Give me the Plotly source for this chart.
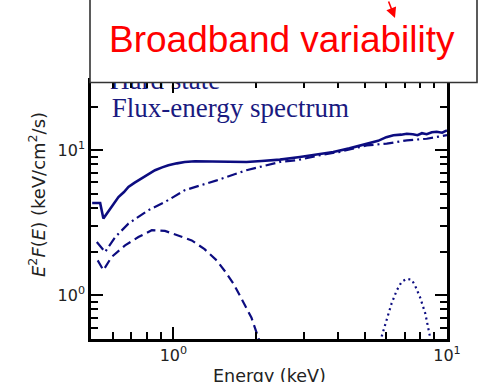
import plotly.graph_objects as go

# ---- spectrum components (energy in keV, E^2 F(E) in keV/cm^2/s) ----
total_energy = [0.505, 0.54, 0.555, 0.57, 0.587, 0.61, 0.63, 0.66, 0.685, 0.72, 0.767, 0.81,
                0.857, 0.91, 0.959, 1.03, 1.10, 1.2, 1.30, 1.40, 1.6, 1.85, 2.1, 2.45,
                2.90, 3.44, 3.84, 4.4, 5.09, 5.6, 6.0, 6.37, 6.8, 7.13, 7.5, 7.8, 8.1,
                8.43, 8.8, 9.17, 9.6, 10.0]
total_flux = [4.33, 4.33, 3.38, 3.62, 3.96, 4.35, 4.76, 5.15, 5.58, 5.95, 6.38, 6.85,
              7.28, 7.62, 7.88, 8.12, 8.30, 8.40, 8.38, 8.30, 8.28, 8.30, 8.42, 8.62,
              8.99, 9.49, 9.73, 10.3, 11.1, 11.6, 12.3, 12.7, 12.8, 13.0, 12.9, 12.7, 13.1,
              12.9, 13.3, 13.4, 13.2, 13.7]

pl_energy = [0.525, 0.563, 0.613, 0.685, 0.81, 0.932, 1.10, 1.44, 1.85, 2.45, 2.82,
             3.44, 4.06, 5.09, 6.02, 7.13, 8.43, 10.0]
pl_flux = [2.33, 1.99, 2.52, 3.12, 3.86, 4.40, 5.30, 6.20, 7.28, 8.30, 8.53,
           9.24, 9.75, 10.8, 11.1, 11.7, 12.0, 12.7]

disk_energy = [0.529, 0.555, 0.595, 0.666, 0.745, 0.834, 0.932, 1.043, 1.167, 1.30,
               1.44, 1.55, 1.66, 1.80, 1.93, 2.06]
disk_flux = [1.74, 1.49, 1.84, 2.21, 2.52, 2.81, 2.78, 2.59, 2.39, 2.08,
             1.74, 1.45, 1.20, 0.90, 0.70, 0.49]

line_energy = [5.77, 6.02, 6.27, 6.55, 6.83, 7.13, 7.43, 7.64, 7.97, 8.33, 8.55, 8.67]
line_flux = [0.52, 0.67, 0.877, 1.08, 1.24, 1.30, 1.28, 1.17, 0.97, 0.75, 0.60, 0.516]

x_major = [1, 10]
x_major_text = ["10<sup>0</sup>", "10<sup>1</sup>"]
x_minor = [0.6, 0.7, 0.8, 0.9, 2, 3, 4, 5, 6, 7, 8, 9]
y_major = [1, 10]
y_major_text = ["10<sup>0</sup>", "10<sup>1</sup>"]
y_minor = [0.6, 0.7, 0.8, 0.9, 2, 3, 4, 5, 6, 7, 8, 9, 20, 30]

x_range = [0.5, 10.0]
y_range = [0.5, 30.0]

NAVY = "#0c0c80"

W, H = 481, 382
L, R, T, B = 91, 34, 81, 43


def px(x):
    return (x - L) / (W - L - R)


def py(y):
    return (H - B - y) / (H - T - B)


fig = go.Figure()
fig.add_trace(go.Scatter(x=disk_energy, y=disk_flux, mode="lines",
                         line=dict(color=NAVY, width=2.2, dash="9px,5px")))
fig.add_trace(go.Scatter(x=line_energy, y=line_flux, mode="lines",
                         line=dict(color=NAVY, width=2.2, dash="2px,3.5px")))
fig.add_trace(go.Scatter(x=pl_energy, y=pl_flux, mode="lines",
                         line=dict(color=NAVY, width=2.2, dash="10px,4px,2px,4px")))
fig.add_trace(go.Scatter(x=total_energy, y=total_flux, mode="lines",
                         line=dict(color=NAVY, width=2.6)))

# in-plot caption, partly tucked under the callout box
fig.add_trace(go.Scatter(x=[0.587, 0.5956], y=[29.2, 18.8], mode="text",
                         text=["Hard state", "Flux-energy spectrum"],
                         textposition="middle right", cliponaxis=False,
                         textfont=dict(family="Liberation Serif", size=27, color="#1a1a80")))

axis_common = dict(type="log", showgrid=False, zeroline=False, showline=True,
                   linecolor="black", linewidth=2.5, mirror="ticks",
                   ticks="inside", ticklen=12, tickwidth=2, tickcolor="black",
                   tickfont=dict(family="DejaVu Sans", size=16, color="#222"))

fig.update_xaxes(range=[__import__("math").log10(v) for v in x_range],
                 tickvals=x_major, ticktext=x_major_text,
                 minor=dict(tickvals=x_minor, ticks="inside", ticklen=7,
                            tickwidth=2, tickcolor="black"),
                 **axis_common)
fig.update_yaxes(range=[__import__("math").log10(v) for v in y_range],
                 tickvals=y_major, ticktext=y_major_text,
                 minor=dict(tickvals=y_minor, ticks="inside", ticklen=7,
                            tickwidth=2, tickcolor="black"),
                 **axis_common)

fig.update_layout(
    width=W, height=H,
    margin=dict(l=L, r=R, t=T, b=B, pad=0),
    paper_bgcolor="white", plot_bgcolor="white",
    showlegend=False,
    shapes=[dict(type="rect", xref="paper", yref="paper", layer="above",
                 x0=px(90), x1=px(477), y0=py(82.5), y1=py(-6),
                 fillcolor="white", line=dict(color="#333", width=1.6))],
    annotations=[
        dict(text="Broadband variability", xref="paper", yref="paper",
             x=px(281.5), y=py(39.5), xanchor="center", yanchor="middle",
             showarrow=False,
             font=dict(family="Liberation Sans", size=37, color="#ff0000")),
        dict(text="", xref="paper", yref="paper", x=px(395), y=py(18),
             ax=-7, ay=-32, showarrow=True, arrowhead=2, arrowsize=1.3,
             arrowwidth=1.6, arrowcolor="#ff0000"),
        dict(text="Energy (keV)", xref="paper", yref="paper",
             x=0.5, y=py(376), xanchor="center", yanchor="middle",
             showarrow=False,
             font=dict(family="DejaVu Sans", size=17.5, color="#222")),
        dict(text="<i>E</i><sup>2</sup><i>F</i>(<i>E</i>) (keV/cm<sup>2</sup>/s)",
             xref="paper", yref="paper", x=px(37), y=py(195),
             xanchor="center", yanchor="middle", textangle=-90,
             showarrow=False,
             font=dict(family="DejaVu Sans", size=18, color="#222")),
    ],
)

fig.write_html("out.html")
